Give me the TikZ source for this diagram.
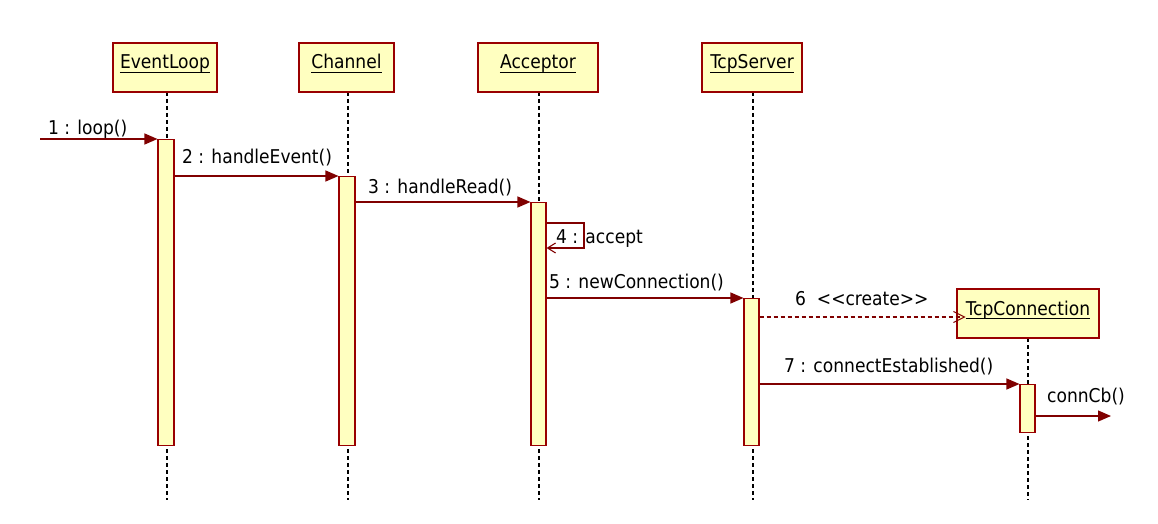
\documentclass[tikz,border=0pt]{standalone}
\usepackage{fontspec}
\setmainfont{DejaVu Sans Condensed}
\usetikzlibrary{arrows.meta}
\definecolor{umlline}{HTML}{800000}
\definecolor{umlborder}{HTML}{990000}
\definecolor{umlfill}{HTML}{FFFFC0}
\tikzset{
  objbox/.style={draw=umlborder, fill=umlfill, line width=1.2pt, inner sep=0pt},
  objname/.style={anchor=base, inner sep=0pt, font=\fontsize{19}{21}\selectfont},
  actbar/.style={draw=umlborder, fill=umlfill, line width=1.1pt},
  lifeline/.style={draw=black, line width=1.1pt, dash pattern=on 4pt off 3pt},
  msg/.style={draw=umlline, line width=1.2pt, -{Triangle[length=13pt,width=11pt]}},
  createmsg/.style={draw=umlline, line width=1.1pt, dash pattern=on 4pt off 3pt, -{Straight Barb[length=11pt,width=11pt]}},
  selfmsg/.style={draw=umlline, line width=1.1pt, -{Straight Barb[length=8pt,width=10pt]}},
  msglabel/.style={anchor=base west, inner sep=0pt, font=\fontsize{19}{21}\selectfont},
}
\newcommand{\objectbox}[6]{%
  % #1 name, #2 left, #3 right, #4 top, #5 bottom, #6 label
  \path[objbox] (#2,#4) rectangle (#3,#5);
  \node[objname] (#1) at ({(#2+#3)/2},{#4+26}) {#6};
  \draw[black, line width=0.9pt] ([yshift=-3pt]#1.base west) -- ([yshift=-3pt]#1.base east);
}
\begin{document}
\begin{tikzpicture}[x=1pt, y=-1pt]
\useasboundingbox (0,0) rectangle (1158,524);

% lifelines
\coordinate (elTop) at (167,92);  \coordinate (elBot) at (167,500);
\coordinate (chTop) at (348,92);  \coordinate (chBot) at (348,500);
\coordinate (acTop) at (539,92);  \coordinate (acBot) at (539,500);
\coordinate (tsTop) at (753,92);  \coordinate (tsBot) at (753,500);
\coordinate (tcTop) at (1028,338); \coordinate (tcBot) at (1028,500);
\draw[lifeline] (elTop) -- (elBot);
\draw[lifeline] (chTop) -- (chBot);
\draw[lifeline] (acTop) -- (acBot);
\draw[lifeline] (tsTop) -- (tsBot);
\draw[lifeline] (tcTop) -- (tcBot);

% objects
\objectbox{eventloop}{113}{217}{43}{92}{EventLoop}
\objectbox{channel}{299}{394}{43}{92}{Channel}
\objectbox{acceptor}{478}{598}{43}{92}{Acceptor}
\objectbox{tcpserver}{702}{802}{43}{92}{TcpServer}
\objectbox{tcpconn}{957}{1099}{289}{338}{TcpConnection}

% activation bars
\node[actbar, minimum width=16pt, minimum height=306pt, inner sep=0pt, anchor=north] (actEL) at (166,139) {};
\node[actbar, minimum width=16pt, minimum height=269pt, inner sep=0pt, anchor=north] (actCH) at (347,176) {};
\node[actbar, minimum width=15pt, minimum height=243pt, inner sep=0pt, anchor=north] (actAC) at (538.5,202) {};
\node[actbar, minimum width=15pt, minimum height=147pt, inner sep=0pt, anchor=north] (actTS) at (751.5,298) {};
\node[actbar, minimum width=15pt, minimum height=48pt, inner sep=0pt, anchor=north] (actTC) at (1027.5,384) {};

% messages
\coordinate (start) at (40,139);
\draw[msg] (start) -- (actEL.north west);
\node[msglabel] (m1) at (48,134) {1 : loop()};

\draw[msg] (actEL.east |- 0,176) -- (actCH.north west);
\node[msglabel] (m2) at (182,163) {2 : handleEvent()};

\draw[msg] (actCH.east |- 0,202) -- (actAC.north west);
\node[msglabel] (m3) at (368,193) {3 : handleRead()};

\coordinate (selfA) at (584,223);
\coordinate (selfB) at (584,248);
\draw[selfmsg] (actAC.east |- 0,223) -- (selfA) -- (selfB) -- (actAC.east |- 0,248);
\node[msglabel] (m4) at (556,243) {4 : accept};

\draw[msg] (actAC.east |- 0,298) -- (actTS.north west);
\node[msglabel] (m5) at (549,288) {5 : newConnection()};

\draw[createmsg] (actTS.east |- 0,317) -- (tcpconn.west |- 0,317);
\node[msglabel] (m6) at (795,305) {6\ \ <\kern0pt<create>\kern0pt>};

\draw[msg] (actTS.east |- 0,384) -- (actTC.north west);
\node[msglabel] (m7) at (784,372) {7 : connectEstablished()};

\coordinate (cbEnd) at (1111,416);
\draw[msg] (actTC.east |- 0,416) -- (cbEnd);
\node[msglabel] (m8) at (1047,402) {connCb()};
\end{tikzpicture}
\end{document}
